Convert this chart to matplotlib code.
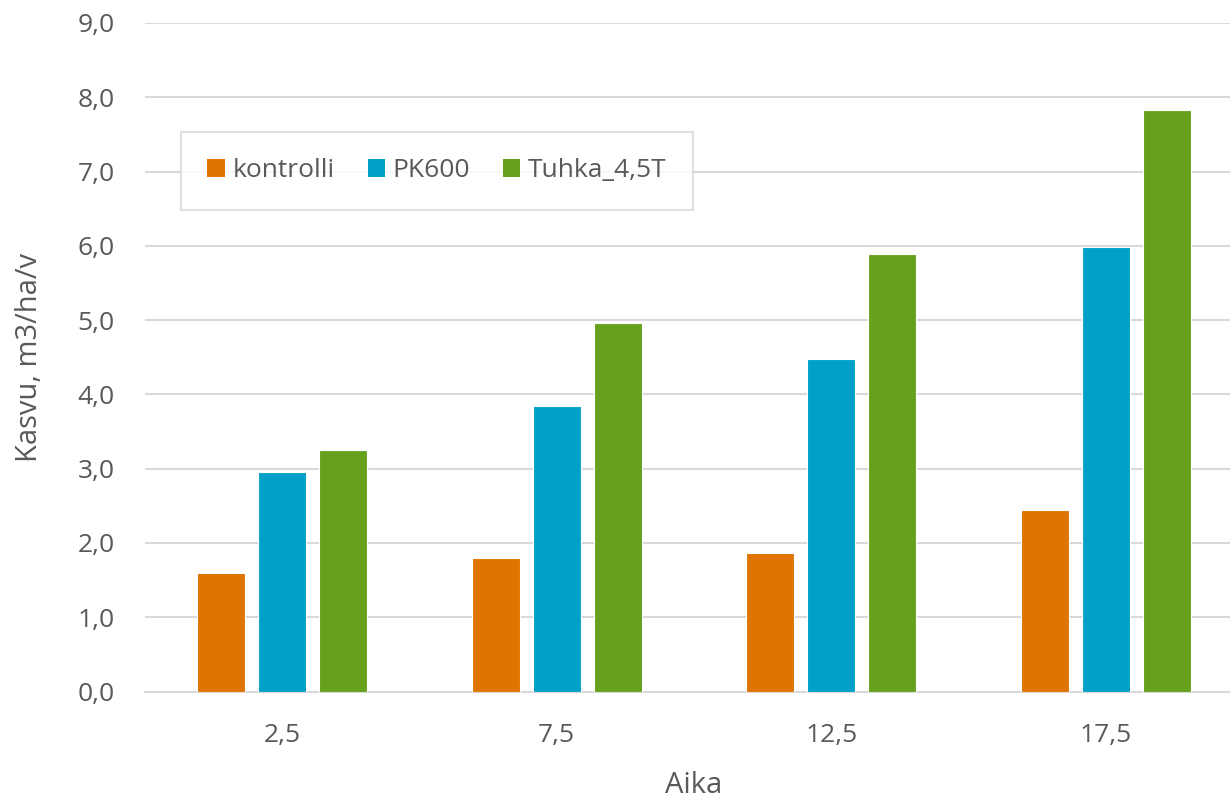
import numpy as np
import matplotlib.pyplot as plt
from matplotlib.patches import Patch

# Kasvu by aika and treatment
aika = ["2,5", "7,5", "12,5", "17,5"]
kontrolli = [1.60, 1.80, 1.86, 2.44]
pk600 = [2.95, 3.85, 4.48, 5.98]
tuhka = [3.25, 4.96, 5.89, 7.83]
series_names = ["kontrolli", "PK600", "Tuhka_4,5T"]
colors = ["#E07400", "#00A0C8", "#66A11E"]
yticks = [0, 1, 2, 3, 4, 5, 6, 7, 8, 9]

plt.rcParams['font.family'] = ['Open Sans', 'DejaVu Sans']
text_color = "#595959"
grid_color = "#D9D9D9"

fig = plt.figure(figsize=(12.3, 7.98), dpi=100)
ax = fig.add_axes([145 / 1230, 1 - 691.5 / 798, 1098 / 1230, 668.5 / 798])

x = np.arange(len(aika))
step = 0.222
width = 0.175
for i, (vals, col) in enumerate(zip([kontrolli, pk600, tuhka], colors)):
    ax.bar(x + (i - 1) * step, vals, width, color=col, edgecolor="white",
           linewidth=0.8, zorder=3)

ax.set_xlim(-0.5, len(aika) - 0.5)
ax.set_ylim(0, 9)
ax.set_yticks(yticks)
ax.set_yticklabels([f"{v:.1f}".replace(".", ",") for v in yticks])
ax.set_xticks(x)
ax.set_xticklabels(aika)
ax.tick_params(length=0, labelsize=19, colors=text_color)
ax.tick_params(axis="y", pad=22)
ax.tick_params(axis="x", pad=23)

ax.grid(axis="y", color=grid_color, linewidth=1.5, zorder=0)
for s in ["top", "right", "left"]:
    ax.spines[s].set_visible(False)
ax.spines["bottom"].set_color(grid_color)
ax.spines["bottom"].set_linewidth(1.5)

ax.set_ylabel("Kasvu, m3/ha/v", fontsize=21, color=text_color, labelpad=24)
ax.set_xlabel("Aika", fontsize=21, color=text_color, labelpad=16)

handles = [Patch(facecolor=c, edgecolor="none") for c in colors]
leg = fig.legend(handles, series_names, loc="upper left",
                 bbox_to_anchor=(181 / 1230, 1 - 132 / 798), ncol=3,
                 fontsize=19, frameon=True, fancybox=False, borderaxespad=0,
                 handlelength=0.65, handleheight=0.65, handletextpad=0.3,
                 columnspacing=1.25, borderpad=1.0, labelcolor=text_color)
leg.get_frame().set_edgecolor(grid_color)
leg.get_frame().set_linewidth(1.5)

fig.savefig("out.png", dpi=100)
